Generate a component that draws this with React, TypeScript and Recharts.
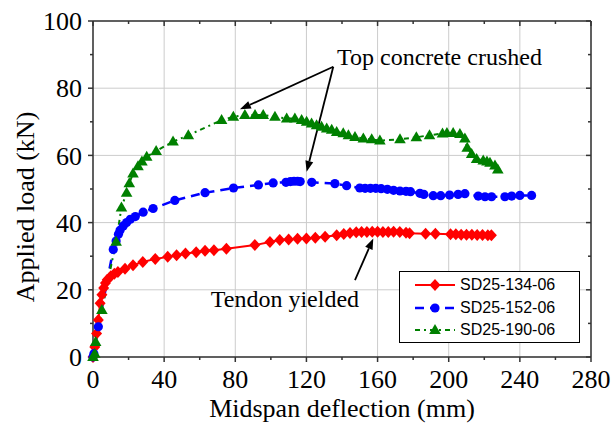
import React from "react";
import {
  LineChart,
  Line,
  XAxis,
  YAxis,
  CartesianGrid,
  Legend,
  ReferenceLine,
  ReferenceDot,
} from "recharts";

// deflection (mm), load (kN)
const sd134: [number, number][] = [
  [0, 0], [1, 3], [2, 7], [3, 11], [4, 16], [5, 18.5], [6, 20.5], [7, 22], [8, 23],
  [10, 24], [12, 24.8], [14, 25.3], [18, 26.3], [22.5, 27.3], [28, 28.3], [35, 29.2],
  [42, 29.8], [47, 30.3], [52, 30.8], [58, 31.2], [63, 31.6], [68, 31.8], [75, 32.2],
  [91, 33.3], [99.5, 34.2], [105, 34.8], [110, 35], [115, 35.2], [120, 35.3],
  [125, 35.5], [130.5, 35.8], [137, 36.2], [141, 36.6], [144.5, 36.9], [148, 37.1],
  [151, 37.2], [154, 37.2], [157, 37.3], [160, 37.3], [163, 37.2], [166, 37.2],
  [169, 37.3], [172.5, 37.2], [176, 37], [178, 36.8], [187, 36.7], [192.5, 36.7],
  [201, 36.5], [204, 36.5], [207, 36.4], [210, 36.4], [213, 36.4], [216, 36.3],
  [219, 36.3], [222, 36.2], [224, 36.2],
];

const sd152: [number, number][] = [
  [0, 0], [0.5, 1], [3, 9], [11.4, 32], [13, 34.5], [14.3, 36.5], [15.2, 37.7],
  [17, 39], [18.9, 40], [21, 41], [23.8, 41.8], [28.2, 43.1], [33.8, 44.2], [46, 46.6],
  [63, 48.9], [79, 50.3], [93, 51.2], [101.3, 51.8], [108.5, 52], [111, 52.2],
  [113, 52.3], [115, 52.3], [116.5, 52.2], [123, 52], [136, 51.6], [142.6, 51],
  [150, 50.3], [153, 50.2], [156, 50.2], [159, 50.2], [162, 50.1], [165.5, 49.9],
  [169, 49.6], [172.6, 49.4], [176, 49.3], [178.5, 49.2], [183.8, 48.7], [186, 48.4],
  [191.3, 48], [195.5, 48], [200.5, 48.2], [205.3, 48.4], [209.1, 48.6], [216.6, 47.9],
  [220.4, 47.7], [224.1, 47.7], [231.6, 47.7], [235.4, 47.9], [240, 48.1], [246.6, 48.1],
];

const sd190: [number, number][] = [
  [0, 0], [1, 1], [1.5, 4.5], [5, 14], [13, 34.3], [16, 44.5], [18.9, 48.9],
  [20.4, 51.7], [22.5, 54.6], [25.3, 56.8], [27.5, 58.2], [30.2, 59.6], [35.5, 61.3],
  [45, 64.1], [53.6, 66], [72.3, 70.5], [78.9, 71.5], [85.4, 72], [91.1, 72],
  [95.7, 72], [102.3, 71.5], [108.9, 71], [113.5, 71], [117.3, 70.5], [120.1, 70],
  [122.9, 69.5], [125.7, 69], [128.5, 68.5], [131.4, 68], [134.2, 67.6], [137, 67],
  [140.7, 66.6], [143.6, 66], [147.3, 65.5], [152, 65], [156.7, 64.8], [161.3, 64.4],
  [172.6, 64.8], [181.8, 65.4], [189.2, 66], [196.5, 66.5], [199, 66.7], [202.5, 66.7],
  [206.3, 66.4], [209.1, 65], [210.4, 62.3], [212.9, 60.4], [215.7, 58.9], [219.4, 58.5],
  [221.5, 58.2], [223.2, 57.8], [226, 57], [227.6, 55.8],
];

const xTicks = [0, 40, 80, 120, 160, 200, 240, 280];
const xTicksAll = [0, 20, 40, 60, 80, 100, 120, 140, 160, 180, 200, 220, 240, 260, 280];
const yTicks = [0, 20, 40, 60, 80, 100];
const yTicksAll = [0, 10, 20, 30, 40, 50, 60, 70, 80, 90, 100];

const SERIF = "'Liberation Serif', 'Times New Roman', serif";
const SANS = "'Liberation Sans', Arial, sans-serif";
const AXIS = "#333";

const toPts = (arr: [number, number][]) => arr.map(([d, p]) => ({ d, p }));

const Diamond = ({ cx, cy, fill }: any) => (
  <polygon points={`${cx},${cy - 6} ${cx + 5.5},${cy} ${cx},${cy + 6} ${cx - 5.5},${cy}`} fill={fill} />
);
const Circle = ({ cx, cy, fill }: any) => <circle cx={cx} cy={cy} r={4.6} fill={fill} />;
const Triangle = ({ cx, cy, fill }: any) => (
  <polygon points={`${cx},${cy - 6} ${cx + 5.8},${cy + 4} ${cx - 5.8},${cy + 4}`} fill={fill} />
);

const series = [
  { name: "SD25-134-06", data: toPts(sd134), color: "#ff0000", dash: undefined, width: 2, Mark: Diamond },
  { name: "SD25-152-06", data: toPts(sd152), color: "#0000ff", dash: "9 6", width: 2.5, Mark: Circle },
  { name: "SD25-190-06", data: toPts(sd190), color: "#008000", dash: "5 4 2 4", width: 2, Mark: Triangle },
];

// tick marks: outward on bottom/left, inward on top/right
const xTickMark = (major: boolean) => (p: any) => {
  const top = Math.min(p.y1, p.y2);
  const bot = Math.max(p.y1, p.y2);
  const len = major ? 5 : 3;
  return (
    <g>
      <line x1={p.x1} x2={p.x1} y1={bot} y2={bot + len} stroke={AXIS} strokeWidth={1.5} />
      <line x1={p.x1} x2={p.x1} y1={top} y2={top + len} stroke={AXIS} strokeWidth={1.5} />
    </g>
  );
};

const yTickMark = (major: boolean) => (p: any) => {
  const left = Math.min(p.x1, p.x2);
  const right = Math.max(p.x1, p.x2);
  const len = major ? 5 : 3;
  return (
    <g>
      <line x1={left} x2={left - len} y1={p.y1} y2={p.y1} stroke={AXIS} strokeWidth={1.5} />
      <line x1={right} x2={right - len} y1={p.y1} y2={p.y1} stroke={AXIS} strokeWidth={1.5} />
    </g>
  );
};

const Arrow = (props: any) => {
  const { x1, y1, x2, y2 } = props;
  const a = Math.atan2(y2 - y1, x2 - x1);
  const L = 11;
  const W = 4;
  const bx = x2 - L * Math.cos(a);
  const by = y2 - L * Math.sin(a);
  return (
    <g>
      <line x1={x1} y1={y1} x2={bx} y2={by} stroke="#000" strokeWidth={1.8} />
      <polygon
        points={`${x2},${y2} ${bx + W * Math.sin(a)},${by - W * Math.cos(a)} ${bx - W * Math.sin(a)},${by + W * Math.cos(a)}`}
        fill="#000"
      />
    </g>
  );
};

const note = (label: string) => (p: any) => (
  <text x={p.cx} y={p.cy} textAnchor="middle" fontFamily={SERIF} fontSize={24} fill="#000">
    {label}
  </text>
);

const LegendBox = () => (
  <div
    style={{
      width: 181,
      height: 72,
      boxSizing: "border-box",
      border: "1px solid #000",
      background: "#fff",
      paddingTop: 2,
      fontFamily: SANS,
      fontSize: 16,
      color: "#000",
    }}
  >
    {series.map((s) => (
      <div key={s.name} style={{ display: "flex", alignItems: "center", height: 22.5 }}>
        <svg width={60} height={20} style={{ display: "block" }}>
          <line x1={15} x2={55} y1={10} y2={10} stroke={s.color} strokeWidth={s.width} strokeDasharray={s.dash} />
          <s.Mark cx={35} cy={10} fill={s.color} />
        </svg>
        <span style={{ lineHeight: "20px" }}>{s.name}</span>
      </div>
    ))}
  </div>
);

const tickFont = { fontSize: 26, fontFamily: SERIF, fill: "#000" };

export default function App() {
  return (
    <div style={{ position: "absolute", left: 0, top: 0, background: "#fff" }}>
      <LineChart width={613} height={427} margin={{ top: 21, right: 22, bottom: 0, left: 0 }}>
        <CartesianGrid stroke="#cccccc" strokeWidth={1} />
        <XAxis
          dataKey="d"
          type="number"
          domain={[0, 280]}
          ticks={xTicks}
          interval={0}
          height={70}
          tickSize={5}
          tickMargin={7.5}
          tickLine={false}
          axisLine={{ stroke: AXIS, strokeWidth: 1.5 }}
          tick={tickFont}
          label={{
            value: "Midspan deflection (mm)",
            position: "insideBottom",
            offset: 10,
            fontSize: 26,
            fontFamily: SERIF,
            fill: "#000",
          }}
        />
        <YAxis
          type="number"
          domain={[0, 100]}
          ticks={yTicks}
          interval={0}
          width={93}
          tickSize={5}
          tickMargin={6}
          tickLine={false}
          axisLine={{ stroke: AXIS, strokeWidth: 1.5 }}
          tick={tickFont}
          label={{
            content: () => (
              <text
                x={34}
                y={207}
                transform="rotate(-90 34 207)"
                textAnchor="middle"
                fontFamily={SERIF}
                fontSize={26}
                fill="#000"
              >
                Applied load (kN)
              </text>
            ),
          }}
        />

        <ReferenceLine y={100} stroke={AXIS} strokeWidth={1.5} />
        <ReferenceLine x={280} stroke={AXIS} strokeWidth={1.5} />
        {xTicksAll.map((v) => (
          <ReferenceLine key={`xt${v}`} x={v} shape={xTickMark(v % 40 === 0)} />
        ))}
        {yTicksAll.map((v) => (
          <ReferenceLine key={`yt${v}`} y={v} shape={yTickMark(v % 20 === 0)} />
        ))}

        {series.map((s) => (
          <Line
            key={s.name}
            name={s.name}
            data={s.data}
            dataKey="p"
            type="linear"
            stroke={s.color}
            strokeWidth={s.width}
            strokeDasharray={s.dash}
            dot={(p: any) => <s.Mark key={`${s.name}-${p.index}`} cx={p.cx} cy={p.cy} fill={s.color} />}
            activeDot={false}
            isAnimationActive={false}
          />
        ))}

        <ReferenceLine segment={[{ x: 135.1, y: 86.4 }, { x: 82.6, y: 73.7 }]} shape={Arrow} />
        <ReferenceLine segment={[{ x: 135.1, y: 86.4 }, { x: 120.1, y: 55.1 }]} shape={Arrow} />
        <ReferenceLine segment={[{ x: 147.3, y: 22.9 }, { x: 157.6, y: 35.3 }]} shape={Arrow} />
        <ReferenceDot x={194.8} y={86.9} r={1} shape={note("Top concrete crushed")} />
        <ReferenceDot x={107.9} y={15} r={1} shape={note("Tendon yielded")} />

        <Legend
          layout="vertical"
          align="center"
          verticalAlign="middle"
          content={<LegendBox />}
          wrapperStyle={{ left: 399, top: 271, width: 181, height: 72 }}
        />
      </LineChart>
    </div>
  );
}
